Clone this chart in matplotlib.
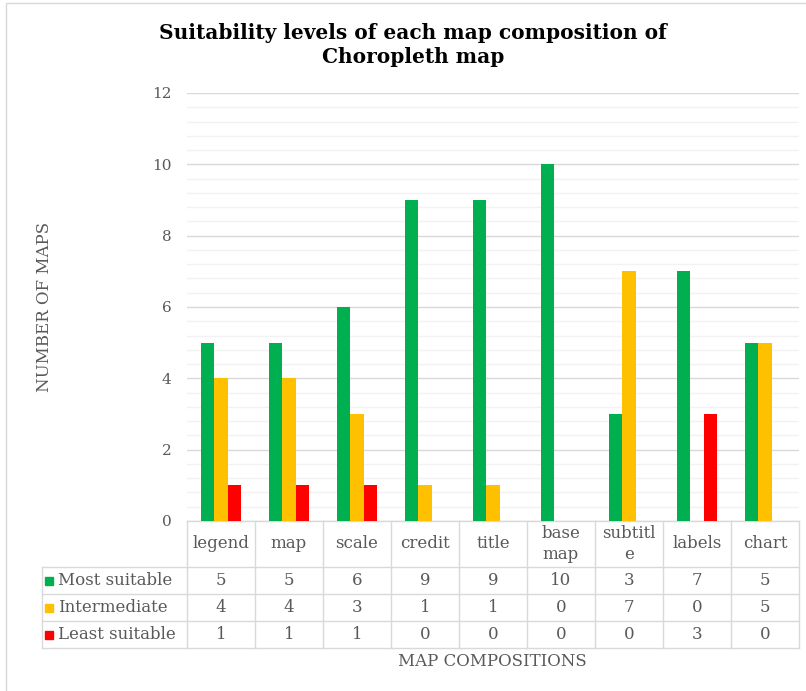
import matplotlib.pyplot as plt
import matplotlib.transforms as mtransforms
from matplotlib.patches import Rectangle
import numpy as np

## data
categories = ["legend", "map", "scale", "credit", "title", "base\nmap", "subtitl\ne", "labels", "chart"]
series_names = ["Most suitable", "Intermediate", "Least suitable"]
most_suitable = [5, 5, 6, 9, 9, 10, 3, 7, 5]
intermediate = [4, 4, 3, 1, 1, 0, 7, 0, 5]
least_suitable = [1, 1, 1, 0, 0, 0, 0, 3, 0]
colors = ["#00B050", "#FFC000", "#FF0000"]

plt.rcParams['font.family'] = ['DejaVu Serif']
W, H = 806, 691
fig = plt.figure(figsize=(W / 100, H / 100), dpi=100)

## figure border
fig.patches.append(Rectangle((6 / W, -0.1), 1.2, 1 - 3 / H + 0.1, transform=fig.transFigure,
                             fill=False, edgecolor="#D9D9D9", linewidth=1))

# plot area in pixels
left, right, top, bottom = 187, 799, 93, 521
ax = fig.add_axes([left / W, 1 - bottom / H, (right - left) / W, (bottom - top) / H])

x = np.arange(len(categories))
bw = 0.2
for k, (vals, c) in enumerate(zip([most_suitable, intermediate, least_suitable], colors)):
    ax.bar(x + (k - 1) * bw, vals, width=bw, color=c, zorder=3)

ax.set_xlim(-0.5, len(categories) - 0.5)
ax.set_ylim(0, 12)
ax.set_yticks(np.arange(0, 13, 2))
ax.set_yticks(np.arange(0, 12.01, 0.4), minor=True)
ax.yaxis.grid(True, which="major", color="#D9D9D9", linewidth=1, zorder=0)
ax.yaxis.grid(True, which="minor", color="#F2F2F2", linewidth=1, zorder=0)
ax.tick_params(axis="y", which="both", length=0, labelsize=11, labelcolor="#595959", pad=11)
ax.set_xticks([])
for s in ax.spines.values():
    s.set_visible(False)

## data table
tr = mtransforms.blended_transform_factory(ax.transData, ax.transAxes)
ph = bottom - top
row_px = [0, 46, 73, 100, 127]
ry = [-p / ph for p in row_px]
col_w = (right - left) / len(categories)
x_tab_left = -0.5 - (left - 42) / col_w
lc = "#D9D9D9"
lkw = dict(color=lc, linewidth=1, transform=tr, clip_on=False)

# horizontal lines
ax.plot([-0.5, 8.5], [ry[0], ry[0]], **lkw)
for yy in ry[1:]:
    ax.plot([x_tab_left, 8.5], [yy, yy], **lkw)
# vertical lines
for i in range(len(categories) + 1):
    ax.plot([i - 0.5, i - 0.5], [ry[0], ry[-1]], **lkw)
ax.plot([x_tab_left, x_tab_left], [ry[1], ry[-1]], **lkw)

tkw = dict(transform=tr, ha="center", va="center", color="#595959", fontsize=12, clip_on=False)
for i, cat in enumerate(categories):
    ax.text(i, (ry[0] + ry[1]) / 2, cat, linespacing=1.25, **tkw)

for r, (name, vals, c) in enumerate(zip(series_names, [most_suitable, intermediate, least_suitable], colors)):
    yc = (ry[r + 1] + ry[r + 2]) / 2
    ax.plot([x_tab_left + 7 / col_w], [yc], marker="s", markersize=6, color=c,
            transform=tr, clip_on=False)
    ax.text(x_tab_left + 16 / col_w, yc, name, transform=tr, ha="left", va="center",
            color="#595959", fontsize=12, clip_on=False)
    for i, v in enumerate(vals):
        ax.text(i, yc, str(v), **tkw)

## titles
fig.text(413 / W, 1 - 45 / H, "Suitability levels of each map composition of\nChoropleth map",
         ha="center", va="center", fontsize=14.5, fontweight="bold", linespacing=1.3)
fig.text(45 / W, 1 - 307 / H, "NUMBER OF MAPS", rotation=90, ha="center", va="center",
         color="#595959", fontsize=12)
fig.text(492 / W, 1 - 662 / H, "MAP COMPOSITIONS", ha="center", va="center",
         color="#595959", fontsize=12)

fig.savefig("out.png", dpi=100)
